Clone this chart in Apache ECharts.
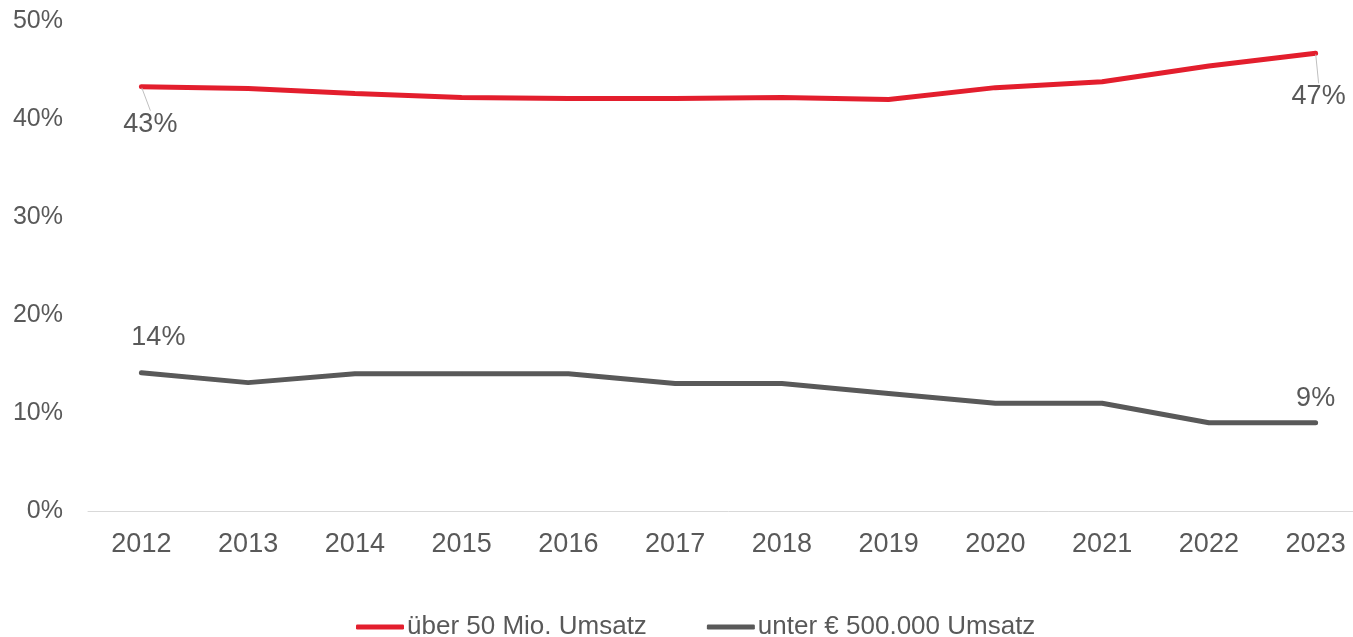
<!DOCTYPE html>
<html>
<head>
<meta charset="utf-8">
<script src="https://cdn.jsdelivr.net/npm/echarts@6/dist/echarts.min.js"></script>
<style>
  html, body { margin: 0; padding: 0; background: #fff; overflow: hidden; }
  #chart { width: 1369px; height: 637px; }
</style>
</head>
<body>
<div id="chart"></div>
<script>
const years = ['2012', '2013', '2014', '2015', '2016', '2017', '2018', '2019', '2020', '2021', '2022', '2023'];
const ueber50Mio = [43.3, 43.1, 42.6, 42.2, 42.1, 42.1, 42.2, 42.0, 43.2, 43.8, 45.4, 46.7];
const unter500k = [14.1, 13.1, 14.0, 14.0, 14.0, 13.0, 13.0, 12.0, 11.0, 11.0, 9.0, 9.0];
const seriesNames = ['über 50 Mio. Umsatz', 'unter € 500.000 Umsatz'];

const textColor = '#595959';
const font = 'Arial, "Liberation Sans", sans-serif';

// only first and last point get a label
function withEndLabels(values, labelFirst, labelLast) {
  return values.map((v, i) => {
    if (i === 0) return { value: v, label: labelFirst };
    if (i === values.length - 1) return { value: v, label: labelLast };
    return v;
  });
}

const labelBase = {
  show: true,
  color: textColor,
  fontSize: 27,
  fontFamily: font,
  formatter: p => Math.round(p.value) + '%'
};

const chart = echarts.init(document.getElementById('chart'));
chart.setOption({
  animation: false,
  grid: { left: 88, right: 0, top: 21, bottom: 126 },
  legend: {
    top: 609,
    left: 351,
    itemWidth: 48,
    itemHeight: 5,
    itemGap: 60,
    icon: 'roundRect',
    textStyle: { color: textColor, fontSize: 26, fontFamily: font, padding: [0, 0, 0, -2] },
    data: seriesNames
  },
  xAxis: {
    type: 'category',
    data: years,
    boundaryGap: true,
    axisLine: { lineStyle: { color: '#d9d9d9', width: 1 } },
    axisTick: { show: false },
    axisLabel: { color: textColor, fontSize: 27, fontFamily: font, margin: 20 }
  },
  yAxis: {
    type: 'value',
    min: 0,
    max: 50,
    interval: 10,
    splitLine: { show: false },
    axisLine: { show: false },
    axisTick: { show: false },
    axisLabel: {
      color: textColor, fontSize: 25, fontFamily: font, margin: 25,
      formatter: v => v + '%'
    }
  },
  series: [
    {
      name: seriesNames[0],
      type: 'line',
      data: withEndLabels(ueber50Mio,
        { ...labelBase, position: 'bottom', distance: 0 },
        { ...labelBase, position: 'bottom', distance: 0 }),
      label: { show: false },
      labelLine: { show: true, lineStyle: { color: '#bfbfbf', width: 1 } },
      labelLayout: p => p.dataIndex === 0 ? { dx: 9, dy: 23 } : { dx: 3, dy: 29 },
      showSymbol: true,
      symbol: 'circle',
      symbolSize: 2,
      lineStyle: { color: '#e31e2d', width: 5, cap: 'round' },
      itemStyle: { color: '#e31e2d' }
    },
    {
      name: seriesNames[1],
      type: 'line',
      data: withEndLabels(unter500k,
        { ...labelBase, position: 'top', distance: 21, offset: [17, 0] },
        { ...labelBase, position: 'top', distance: 10 }),
      label: { show: false },
      showSymbol: true,
      symbol: 'circle',
      symbolSize: 2,
      lineStyle: { color: '#595959', width: 5, cap: 'round' },
      itemStyle: { color: '#595959' }
    }
  ]
});
</script>
</body>
</html>
